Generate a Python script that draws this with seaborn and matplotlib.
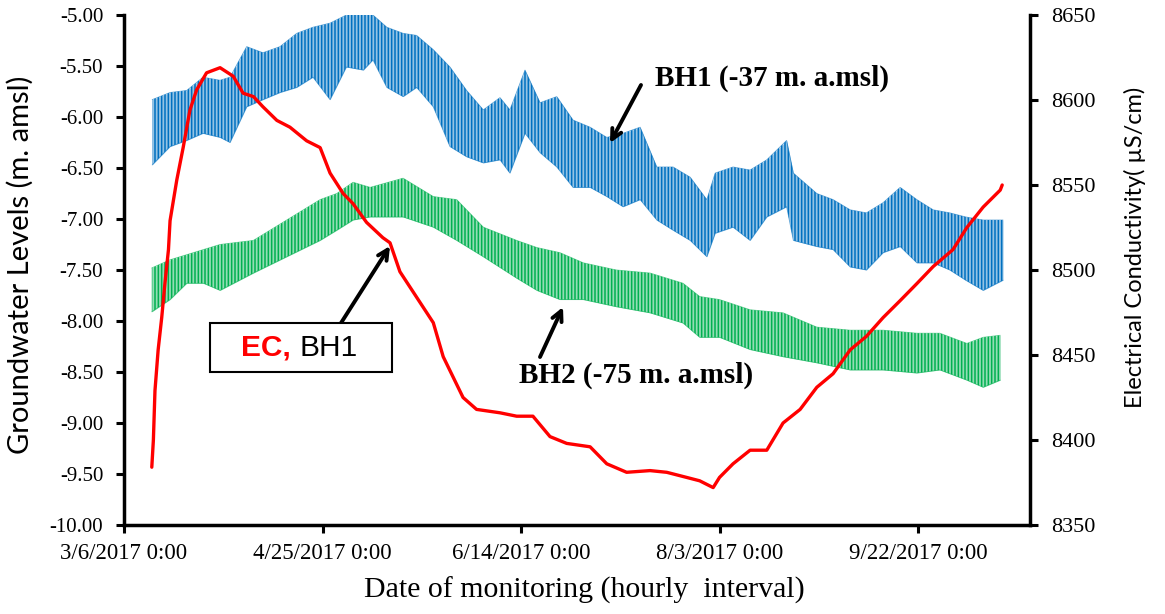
import numpy as np
import pandas as pd
import matplotlib
matplotlib.use("Agg")
import matplotlib.pyplot as plt
import matplotlib.dates as mdates
import seaborn as sns

# ---------------- data ----------------
start_date = "2017-03-06"

# BH1 groundwater level envelope (m amsl), days since 3/6/2017
bh1_day = [7.1, 11.6, 15.8, 19.9, 24.2, 26.7, 30.9, 35.0, 39.3, 43.5, 47.6, 51.9,
           56.0, 60.3, 62.7, 66.2, 70.3, 73.7, 77.9, 82.1, 86.3, 90.5, 94.7, 97.2,
           101.0, 104.8, 109.0, 113.1, 117.4, 121.6, 125.7, 130.0, 134.2, 138.3,
           142.6, 146.8, 148.9, 153.4, 157.7, 161.9, 166.9, 168.6, 174.5, 178.6,
           182.9, 187.0, 191.2, 195.5, 199.7, 203.8, 208.0, 212.0, 216.4, 221.4]
bh1_high = [-5.83, -5.76, -5.74, -5.61, -5.64, -5.61, -5.31, -5.37, -5.31, -5.18, -5.12, -5.08,
            -5.00, -5.00, -5.00, -5.12, -5.18, -5.20, -5.34, -5.51, -5.74, -5.93, -5.81, -5.93,
            -5.54, -5.86, -5.80, -6.03, -6.10, -6.20, -6.16, -6.10, -6.49, -6.49,
            -6.59, -6.81, -6.55, -6.49, -6.52, -6.42, -6.23, -6.55, -6.75, -6.81,
            -6.91, -6.94, -6.84, -6.69, -6.81, -6.91, -6.94, -6.98, -7.01, -7.01]
bh1_low = [-6.47, -6.29, -6.23, -6.16, -6.20, -6.25, -5.90, -5.83, -5.76, -5.71, -5.61, -5.83,
           -5.51, -5.54, -5.44, -5.71, -5.80, -5.71, -5.90, -6.29, -6.39, -6.45, -6.42, -6.55,
           -6.16, -6.35, -6.49, -6.69, -6.69, -6.78, -6.88, -6.81, -7.01, -7.11,
           -7.21, -7.37, -7.14, -7.08, -7.21, -6.98, -6.88, -7.21, -7.27, -7.30,
           -7.47, -7.50, -7.33, -7.27, -7.43, -7.43, -7.50, -7.60, -7.70, -7.60]

# BH2 groundwater level envelope (m amsl)
bh2_day = [7.0, 11.6, 15.8, 20.0, 24.2, 32.6, 41.0, 49.4, 53.6, 57.7, 62.0, 70.3,
           77.9, 83.8, 90.5, 98.9, 104.0, 109.8, 115.7, 124.0, 132.5, 140.8, 145.0,
           150.0, 157.7, 166.0, 174.5, 182.9, 191.2, 199.7, 205.5, 212.3, 216.4, 220.7]
bh2_high = [-7.48, -7.40, -7.35, -7.30, -7.25, -7.21, -7.01, -6.81, -6.75, -6.64, -6.69, -6.60,
            -6.78, -6.81, -7.08, -7.21, -7.28, -7.33, -7.43, -7.50, -7.53, -7.63, -7.76,
            -7.79, -7.89, -7.92, -8.06, -8.09, -8.09, -8.12, -8.12, -8.22, -8.16, -8.14]
bh2_low = [-7.91, -7.79, -7.63, -7.63, -7.70, -7.53, -7.37, -7.21, -7.11, -7.01, -6.98, -6.98,
           -7.08, -7.21, -7.37, -7.58, -7.70, -7.79, -7.79, -7.86, -7.92, -8.02, -8.16,
           -8.16, -8.28, -8.35, -8.41, -8.48, -8.48, -8.51, -8.48, -8.58, -8.65, -8.58]

# Electrical conductivity at BH1 (uS/cm)
ec_day = [7.0, 7.4, 7.8, 8.6, 9.5, 10.3, 11.2, 11.6, 13.3, 14.9, 16.6, 18.3, 20.8, 24.2,
          27.5, 30.0, 32.6, 35.0, 38.5, 41.8, 46.0, 49.4, 51.9, 55.2, 57.7, 61.1, 65.2,
          67.0, 69.5, 73.7, 77.9, 80.4, 82.9, 85.4, 88.8, 94.7, 98.9, 103.0, 107.3, 111.5,
          117.4, 121.6, 126.6, 132.5, 136.7, 141.7, 145.0, 148.4, 150.0, 153.4, 157.7,
          161.9, 166.0, 170.3, 174.5, 178.6, 182.9, 187.0, 191.2, 195.5, 199.7, 203.8,
          208.8, 212.3, 216.4, 220.7, 221.2]
ec_val = [8384, 8400, 8429, 8453, 8472, 8492, 8512, 8529, 8553, 8572, 8594, 8606, 8616, 8619,
          8614, 8604, 8602, 8596, 8588, 8584, 8576, 8572, 8557, 8545, 8539, 8528, 8519,
          8516, 8499, 8484, 8469, 8449, 8437, 8425, 8418, 8416, 8414, 8414, 8402, 8398,
          8396, 8386, 8381, 8382, 8381, 8378, 8376, 8372, 8378, 8386, 8394,
          8394, 8410, 8418, 8431, 8439, 8453, 8461, 8472, 8482, 8492, 8502,
          8512, 8525, 8537, 8547, 8550]

x_tick_days = [0, 50, 100, 150, 200]
x_tick_labels = ["3/6/2017 0:00", "4/25/2017 0:00", "6/14/2017 0:00",
                 "8/3/2017 0:00", "9/22/2017 0:00"]
left_ticks = [-10.0, -9.5, -9.0, -8.5, -8.0, -7.5, -7.0, -6.5, -6.0, -5.5, -5.0]
right_ticks = [8350, 8400, 8450, 8500, 8550, 8600, 8650]

# ---------------- helpers ----------------
t0 = pd.Timestamp(start_date)


def to_dates(days):
    return t0 + pd.to_timedelta(np.asarray(days, dtype=float), unit="D")


# ---------------- figure ----------------
sns.set_style("ticks")
plt.rcParams["axes.unicode_minus"] = False
plt.rcParams["font.family"] = ["Liberation Serif", "DejaVu Serif"]
plt.rcParams["text.color"] = "black"
plt.rcParams["axes.labelcolor"] = "black"
plt.rcParams["xtick.color"] = "black"
plt.rcParams["ytick.color"] = "black"
plt.rcParams["hatch.linewidth"] = 1.1

W, H = 1165, 614
fig = plt.figure(figsize=(W / 100, H / 100), dpi=100)
ax = fig.add_axes([124 / W, 1 - 525 / H, (1030 - 124) / W, (525 - 15) / H])
ax2 = ax.twinx()

blue = "#0070C0"
green = "#00B050"
red = "#FF0000"

# groundwater bands: envelope filled with dense vertical (tidal) strokes
for days, hi, lo, col in [(bh1_day, bh1_high, bh1_low, blue),
                          (bh2_day, bh2_high, bh2_low, green)]:
    d = to_dates(days)
    ax.fill_between(d, lo, hi, facecolor=col, alpha=0.42, lw=0)
    ax.fill_between(d, lo, hi, facecolor="none", edgecolor=col, hatch="|||||", lw=0)
    band = pd.DataFrame({"date": list(d) + list(d),
                         "level": list(hi) + list(lo),
                         "edge": ["high"] * len(d) + ["low"] * len(d)})
    sns.lineplot(data=band, x="date", y="level", units="edge", estimator=None,
                 ax=ax, color=col, lw=0.6, alpha=0.6)

# EC
ec_df = pd.DataFrame({"date": to_dates(ec_day), "ec": ec_val})
sns.lineplot(data=ec_df, x="date", y="ec", ax=ax2, color=red, lw=2.4,
             estimator=None, sort=False)

# axes limits & ticks
x0 = mdates.date2num(t0)
ax.set_xlim(x0, x0 + 228.2)
ax.set_ylim(-10, -5)
ax2.set_ylim(8350, 8650)
ax.set_xticks([x0 + d for d in x_tick_days])
ax.set_xticklabels(x_tick_labels)
ax.set_yticks(left_ticks)
ax.set_yticklabels([f"{v:.2f}" for v in left_ticks])
ax2.set_yticks(right_ticks)
ax2.set_yticklabels([str(v) for v in right_ticks])

ax.tick_params(axis="x", direction="out", length=6, width=2.2, labelsize=16.5, pad=7)
ax.tick_params(axis="y", direction="out", length=6, width=2.2, labelsize=15, pad=9)
ax2.tick_params(axis="y", direction="out", length=6, width=2.2, labelsize=16, pad=9)
for a in (ax, ax2):
    for s in a.spines.values():
        s.set_linewidth(2.5)
        s.set_color("black")
    a.spines["top"].set_visible(False)
ax.spines["right"].set_visible(False)
ax2.spines["left"].set_visible(False)
ax2.spines["bottom"].set_visible(False)

ax.set_xlabel("")
ax.set_ylabel("")
ax2.set_xlabel("")
ax2.set_ylabel("")

# axis titles
fig.text(20 / W, 1 - 265 / H, "Groundwater Levels (m. amsl)", rotation=90,
         ha="center", va="center", fontsize=21, family=["Lato", "DejaVu Sans"])
fig.text(1135 / W, 1 - 247 / H, "Electrical Conductivity( \u00b5S/cm)", rotation=90,
         ha="center", va="center", fontsize=17, family=["Lato", "DejaVu Sans"])
fig.text(584 / W, 1 - 590 / H, "Date of monitoring (hourly  interval)",
         ha="center", va="center", fontsize=21.5, family=["Liberation Serif"])


# annotations (figure pixel coordinates)
def fxy(px, py):
    return (px / W, 1 - py / H)


arrow_kw = dict(arrowstyle="->", lw=2.8, color="black", mutation_scale=18,
                shrinkA=0, shrinkB=0)

ax.annotate("", xy=fxy(610, 143), xytext=fxy(641, 85), xycoords="figure fraction",
            textcoords="figure fraction", arrowprops=arrow_kw)
fig.text(655 / W, 1 - 78 / H, "BH1 (-37 m. a.msl)", ha="left", va="center",
         fontsize=21, fontweight="bold", family=["Liberation Serif"])

ax.annotate("", xy=fxy(563, 307), xytext=fxy(540, 357), xycoords="figure fraction",
            textcoords="figure fraction", arrowprops=arrow_kw)
fig.text(519 / W, 1 - 375 / H, "BH2 (-75 m. a.msl)", ha="left", va="center",
         fontsize=21, fontweight="bold", family=["Liberation Serif"])

ax.annotate("", xy=fxy(390, 246), xytext=fxy(341, 323), xycoords="figure fraction",
            textcoords="figure fraction", arrowprops=arrow_kw)
box = plt.Rectangle(fxy(210, 372), (392 - 210) / W, (372 - 323) / H,
                    transform=fig.transFigure, fill=True, facecolor="white",
                    edgecolor="black", lw=1.5, zorder=5)
fig.add_artist(box)
fig.text(291 / W, 1 - 348 / H, "EC,", ha="right", va="center", fontsize=21.5,
         fontweight="bold", color=red, family=["Liberation Sans"], zorder=6)
fig.text(300 / W, 1 - 348 / H, "BH1", ha="left", va="center", fontsize=21.5,
         color="black", family=["Liberation Sans"], zorder=6)

fig.savefig("out.png", dpi=100)
